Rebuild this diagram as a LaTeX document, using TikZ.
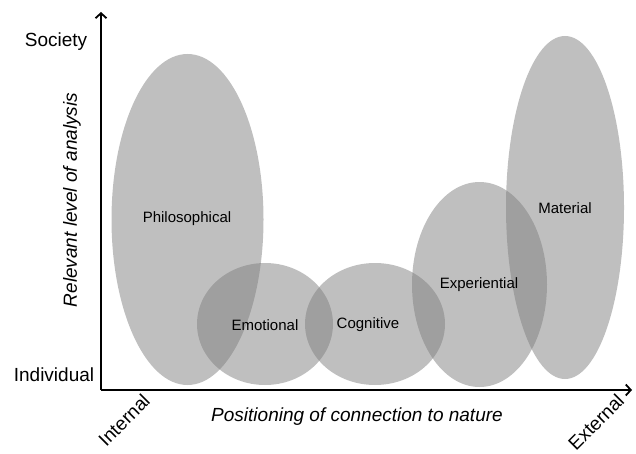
\documentclass[tikz,border=0pt]{standalone}
\usepackage{fontspec}
\setmainfont{Liberation Sans}
\usepackage{tikz}
\usetikzlibrary{arrows.meta}
\tikzset{
  blob/.style={fill=gray, fill opacity=0.5, draw=none},
  blobtext/.style={font=\fontsize{15}{18}\selectfont},
  axistext/.style={font=\fontsize{19}{22}\selectfont},
  axistitle/.style={font=\fontsize{19}{22}\selectfont\itshape},
  axisline/.style={-{Straight Barb[length=5pt, width=11pt]}, line width=1.8pt}
}

\begin{document}
\begin{tikzpicture}[x=1pt, y=1pt]

  %% Page frame.
  \useasboundingbox (0,0) rectangle (636,453);

  %% The ellipses:
  \fill[blob] (187.5,233.5) ellipse [x radius=76, y radius=165.5];
  \fill[blob] (265,129) ellipse [x radius=68, y radius=61];
  \fill[blob] (375,129) ellipse [x radius=70, y radius=61];
  \fill[blob] (479.5,168.5) ellipse [x radius=67.5, y radius=102.5];
  \fill[blob] (565,245.5) ellipse [x radius=59, y radius=171.5];

  %% The labels inside:
  \node[blobtext] (philo) at (187,234) {Philosophical};
  \node[blobtext] (emo) at (265,128) {Emotional};
  \node[blobtext] (cogn) at (368,128) {Cognitive};
  \node[blobtext] (exper) at (479,168) {Experiential};
  \node[blobtext] (mater) at (565,245) {Material};

  %% The main axises:
  \coordinate (origin) at (101,63);
  \coordinate (ytop) at (101,441);
  \coordinate (xend) at (632,63);
  \draw[axisline] (origin) -- (ytop);
  \draw[axisline] (origin) -- (xend);

  %% Axis labels:
  \node[axistext] (society) at (56,411) {Society};
  \node[axistext] (indiv) at (54,78) {Individual};
  \node[axistext, rotate=45] (intern) at (124,33) {Internal};
  \node[axistext, rotate=45] (extern) at (596,31) {External};
  \node[axistitle] (xtitle) at (357,36) {Positioning of connection to nature};
  \node[axistitle, rotate=90] (ytitle) at (72,253) {Relevant level of analysis};

\end{tikzpicture}
\end{document}
